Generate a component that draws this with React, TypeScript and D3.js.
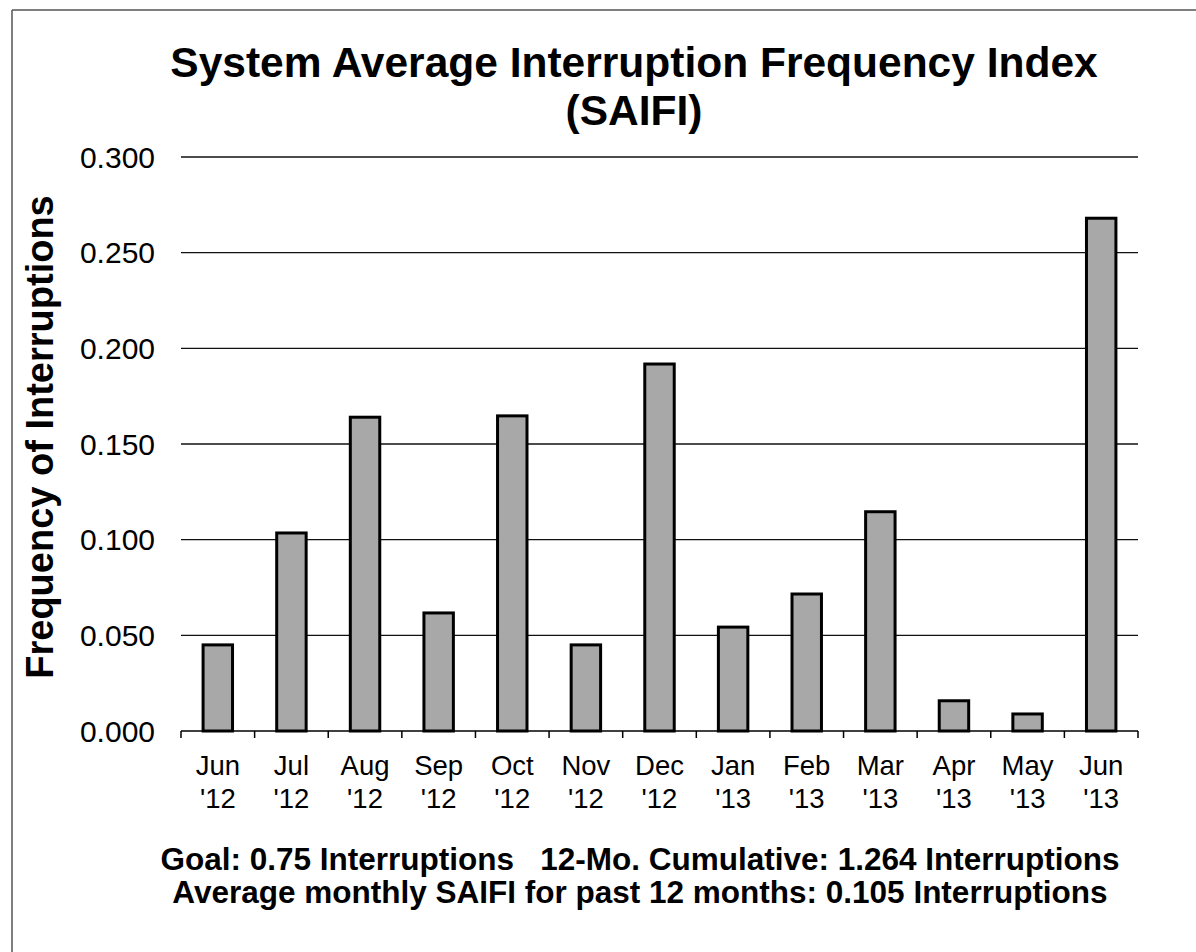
import React from "react";
import * as d3 from "d3";

const months = ["Jun", "Jul", "Aug", "Sep", "Oct", "Nov", "Dec", "Jan", "Feb", "Mar", "Apr", "May", "Jun"];
const years = ["'12", "'12", "'12", "'12", "'12", "'12", "'12", "'13", "'13", "'13", "'13", "'13", "'13"];
const saifi = [0.045, 0.1035, 0.164, 0.0617, 0.1647, 0.045, 0.1918, 0.0543, 0.0716, 0.1146, 0.0158, 0.0089, 0.268];
const yTicks = [0, 0.05, 0.1, 0.15, 0.2, 0.25, 0.3];
const titleLines = ["System Average Interruption Frequency Index", "(SAIFI)"];
const footerLines = [
  "Goal: 0.75 Interruptions   12-Mo. Cumulative: 1.264 Interruptions",
  "Average monthly SAIFI for past 12 months: 0.105 Interruptions",
];
const yLabel = "Frequency of Interruptions";

const W = 1196;
const H = 952;
const left = 181;
const right = 1138;
const top = 157;
const bottom = 731;
const font = "'Liberation Sans', Arial, sans-serif";

export default function App() {
  const keys = months.map((_, i) => String(i));
  const x = d3.scaleBand<string>().domain(keys).range([left, right]).paddingInner(0.6).paddingOuter(0.3);
  const y = d3.scaleLinear().domain([0, 0.3]).range([bottom, top]);
  const step = x.step();
  const boundaries = d3.range(months.length + 1).map((i) => left + i * step);

  return (
    <svg width={W} height={H} style={{ position: "absolute", left: 0, top: 0, background: "#fff" }}>
      <rect x={0} y={0} width={W} height={H} fill="#fff" />
      <line x1={12} y1={10} x2={W} y2={10} stroke="#555" strokeWidth={1.5} />
      <line x1={12} y1={10} x2={12} y2={H} stroke="#555" strokeWidth={1.5} />

      {titleLines.map((t, i) => (
        <text key={t} x={634} y={77 + i * 48} textAnchor="middle" fontFamily={font} fontWeight="bold" fontSize={42.5} fill="#000">
          {t}
        </text>
      ))}

      {yTicks.map((v) => (
        <g key={v}>
          {v > 0 && <line x1={left} x2={right} y1={y(v)} y2={y(v)} stroke="#111" strokeWidth={1.3} />}
          <text x={155} y={y(v)} dy="0.36em" textAnchor="end" fontFamily={font} fontSize={30} fill="#000">
            {d3.format(".3f")(v)}
          </text>
        </g>
      ))}

      <text
        transform={`translate(53, ${437}) rotate(-90)`}
        textAnchor="middle"
        fontFamily={font}
        fontWeight="bold"
        fontSize={38}
        fill="#000"
      >
        {yLabel}
      </text>

      {saifi.map((v, i) => (
        <rect
          key={i}
          x={x(String(i))}
          y={y(v)}
          width={x.bandwidth()}
          height={y(0) - y(v)}
          fill="#a8a8a8"
          stroke="#000"
          strokeWidth={3}
        />
      ))}

      <line x1={left} x2={right} y1={bottom} y2={bottom} stroke="#000" strokeWidth={1.5} />
      {boundaries.map((bx, i) => (
        <line key={i} x1={bx} x2={bx} y1={bottom} y2={bottom + 7} stroke="#000" strokeWidth={1.5} />
      ))}

      {months.map((m, i) => {
        const cx = (x(String(i)) as number) + x.bandwidth() / 2;
        return (
          <g key={i}>
            <text x={cx} y={775} textAnchor="middle" fontFamily={font} fontSize={27.5} fill="#000">
              {m}
            </text>
            <text x={cx} y={808} textAnchor="middle" fontFamily={font} fontSize={27.5} fill="#000">
              {years[i]}
            </text>
          </g>
        );
      })}

      {footerLines.map((t, i) => (
        <text key={t} x={640} y={870 + i * 33} textAnchor="middle" fontFamily={font} fontWeight="bold" fontSize={31.5} fill="#000" style={{ whiteSpace: "pre" }}>
          {t}
        </text>
      ))}
    </svg>
  );
}
